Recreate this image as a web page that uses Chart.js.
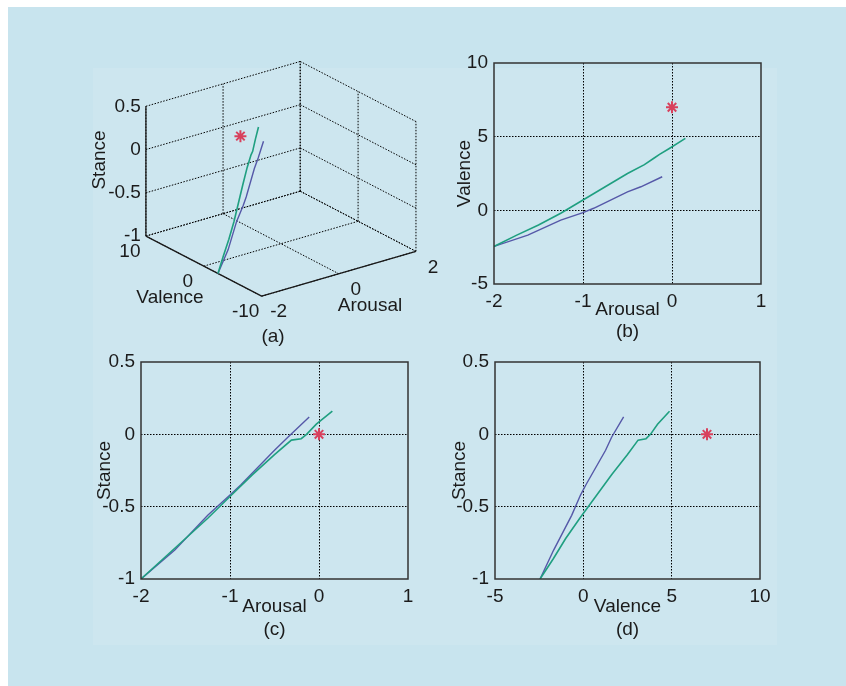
<!DOCTYPE html>
<html>
<head>
<meta charset="utf-8">
<script src="https://cdn.jsdelivr.net/npm/chart.js@4.4.1/dist/chart.umd.min.js"></script>
<style>
  html, body { margin: 0; padding: 0; background: #fff; }
  #page { position: relative; width: 846px; height: 686px; overflow: hidden; }
  #outer { position: absolute; left: 8px; top: 7px; width: 838px; height: 679px; background: #c8e4ee; }
  #inner { position: absolute; left: 93px; top: 68px; width: 684px; height: 577px; background: #cde6ef; }
  canvas { position: absolute; }
</style>
</head>
<body>
<div id="page">
  <div id="outer"></div>
  <div id="inner"></div>
  <canvas id="chartA" width="450" height="350" style="left:0;top:0"></canvas>
  <canvas id="chartB" width="360" height="320" style="left:450px;top:30px"></canvas>
  <canvas id="chartC" width="380" height="320" style="left:60px;top:340px"></canvas>
  <canvas id="chartD" width="360" height="320" style="left:440px;top:340px"></canvas>
</div>
<script>
// trajectories (arousal, valence, stance)
const arousalGreen = [-2, -1.75, -1.5, -1.25, -1, -0.75, -0.5, -0.31, -0.2, -0.14, -0.03, 0.15];
const valenceGreen = [-2.45, -1.7, -1.0, -0.2, 0.7, 1.6, 2.5, 3.1, 3.55, 3.8, 4.2, 4.88];
const stanceGreen  = [-1, -0.86, -0.72, -0.58, -0.43, -0.28, -0.14, -0.04, -0.03, 0.0, 0.07, 0.16];

const arousalBlue = [-2, -1.62, -1.25, -1, -0.88, -0.5, -0.35, -0.11];
const valenceBlue = [-2.45, -1.68, -0.66, -0.16, 0.14, 1.26, 1.6, 2.28];
const stanceBlue  = [-1, -0.8, -0.56, -0.42, -0.35, -0.11, -0.02, 0.12];

// target point (red star)
const targetArousal = [0];
const targetValence = [7];
const targetStance  = [0];

// tick values
const arousalTicks = [-2, -1, 0, 1];
const valenceTicks = [-5, 0, 5, 10];
const stanceTicks  = [-1, -0.5, 0, 0.5];
const arousalTicks3d = [-2, 0, 2];
const valenceTicks3d = [-10, 0, 10];
const stanceTicks3d  = [-1, -0.5, 0, 0.5];

const GREEN = '#1f9f80', BLUE = '#5558a8', RED = '#d8405c', INK = '#1b1b1b';
const FONT = '19px "Liberation Sans", Arial, Helvetica, sans-serif';

Chart.defaults.font.family = '"Liberation Sans", Arial, Helvetica, sans-serif';
Chart.defaults.font.size = 19;
Chart.defaults.color = INK;

function pairs(xs, ys) {
  return xs.map((x, i) => ({ x: x, y: ys[i] }));
}

// ---------- panel (a): 3-D view drawn through a projection ----------
const box3d = { a: [-2, 2], v: [-10, 10], s: [-1, 0.5] };
const origin3d = [143, 239];              // corner arousal=-2, valence=10, stance=-1
const aEdge = [160, -47], vEdge = [120, 63], sEdge = [0, -136];

function project(a, v, s) {
  const fa = (a - box3d.a[0]) / (box3d.a[1] - box3d.a[0]);
  const fv = (box3d.v[1] - v) / (box3d.v[1] - box3d.v[0]);
  const fs = (s - box3d.s[0]) / (box3d.s[1] - box3d.s[0]);
  return {
    x: origin3d[0] + fa * aEdge[0] + fv * vEdge[0] + fs * sEdge[0],
    y: origin3d[1] + fa * aEdge[1] + fv * vEdge[1] + fs * sEdge[1]
  };
}

function seg(p, q, dashed) {
  return {
    data: [p, q], showLine: true, pointRadius: 0, borderWidth: dashed ? 1 : 1.3,
    borderColor: dashed ? '#000' : '#1a1a1a', borderDash: dashed ? [1.5, 1.5] : []
  };
}

const [aMin, aMax] = box3d.a, [vMin, vMax] = box3d.v, [sMin, sMax] = box3d.s;
const gridSets = [];
stanceTicks3d.forEach(s => {
  gridSets.push(seg(project(aMin, vMax, s), project(aMax, vMax, s), true));
  gridSets.push(seg(project(aMax, vMax, s), project(aMax, vMin, s), true));
});
arousalTicks3d.forEach(a => {
  gridSets.push(seg(project(a, vMax, sMin), project(a, vMax, sMax), true));
  gridSets.push(seg(project(a, vMax, sMin), project(a, vMin, sMin), true));
});
valenceTicks3d.forEach(v => {
  gridSets.push(seg(project(aMax, v, sMin), project(aMax, v, sMax), true));
  gridSets.push(seg(project(aMin, v, sMin), project(aMax, v, sMin), true));
});
const axisSets = [
  seg(project(aMin, vMax, sMin), project(aMin, vMax, sMax), false),
  seg(project(aMin, vMax, sMin), project(aMin, vMin, sMin), false),
  seg(project(aMin, vMin, sMin), project(aMax, vMin, sMin), false)
];

const text3d = {
  id: 'text3d',
  afterDraw(chart) {
    const ctx = chart.ctx;
    const px = p => [chart.scales.x.getPixelForValue(p.x), chart.scales.y.getPixelForValue(p.y)];
    ctx.save();
    ctx.fillStyle = INK;
    ctx.font = FONT;
    ctx.textBaseline = 'middle';
    ctx.textAlign = 'right';
    stanceTicks3d.forEach(s => {
      const [x, y] = px(project(aMin, vMax, s));
      ctx.fillText(String(s), x - 5, y);
    });
    ctx.textAlign = 'center';
    valenceTicks3d.forEach(v => {
      const [x, y] = px(project(aMin, v, sMin));
      ctx.fillText(String(v), x - 16, y + 16);
    });
    arousalTicks3d.forEach(a => {
      const [x, y] = px(project(a, vMin, sMin));
      ctx.fillText(String(a), x + 17, y + 16);
    });
    ctx.fillText('Valence', 170, 298);
    ctx.fillText('Arousal', 370, 306);
    ctx.fillText('(a)', 273, 337);
    ctx.translate(100, 160);
    ctx.rotate(-Math.PI / 2);
    ctx.fillText('Stance', 0, 0);
    ctx.restore();
  }
};

new Chart(document.getElementById('chartA'), {
  type: 'scatter',
  data: {
    datasets: [
      { data: [project(targetArousal[0], targetValence[0], targetStance[0])], pointStyle: 'star',
        pointRadius: 6, borderColor: RED, borderWidth: 2 },
      { data: arousalGreen.map((a, i) => project(a, valenceGreen[i], stanceGreen[i])), showLine: true,
        pointRadius: 0, borderColor: GREEN, borderWidth: 1.6 },
      { data: arousalBlue.map((a, i) => project(a, valenceBlue[i], stanceBlue[i])), showLine: true,
        pointRadius: 0, borderColor: BLUE, borderWidth: 1.4 }
    ].concat(axisSets, gridSets)
  },
  options: {
    responsive: false,
    animation: false,
    layout: { padding: 0 },
    plugins: { legend: { display: false }, tooltip: { enabled: false } },
    scales: {
      x: { type: 'linear', min: 0, max: 450, display: false },
      y: { type: 'linear', min: 0, max: 350, reverse: true, display: false }
    }
  },
  plugins: [text3d]
});

// ---------- panels (b), (c), (d) ----------
const frame = {
  id: 'frame',
  afterDatasetsDraw(chart) {
    const { ctx, chartArea: a } = chart;
    ctx.save();
    ctx.strokeStyle = '#333';
    ctx.lineWidth = 1.5;
    ctx.strokeRect(a.left, a.top, a.right - a.left, a.bottom - a.top);
    ctx.restore();
  }
};

const panelText = {
  id: 'panelText',
  afterDraw(chart, args, o) {
    const { ctx, chartArea: a } = chart;
    const cx = (a.left + a.right) / 2, cy = (a.top + a.bottom) / 2;
    ctx.save();
    ctx.fillStyle = INK;
    ctx.font = FONT;
    ctx.textAlign = 'center';
    ctx.textBaseline = 'middle';
    ctx.fillText(o.xTitle, cx, a.bottom + o.xDy);
    ctx.fillText(o.caption, cx, a.bottom + o.capDy);
    ctx.translate(a.left - o.yOff, cy);
    ctx.rotate(-Math.PI / 2);
    ctx.fillText(o.yTitle, 0, 0);
    ctx.restore();
  }
};

function axis(ticks, size, horizontal) {
  return {
    type: 'linear',
    min: ticks[0],
    max: ticks[ticks.length - 1],
    afterBuildTicks: s => { s.ticks = ticks.map(v => ({ value: v })); },
    afterFit: s => { if (horizontal) s.height = size; else s.width = size; },
    grid: {
      drawTicks: false,
      lineWidth: 1,
      color: c => (c.index > 0 && c.index < ticks.length - 1) ? '#000' : 'rgba(0,0,0,0)'
    },
    border: { display: false, dash: [1.5, 1.5] },
    ticks: { padding: 6, maxRotation: 0, color: INK, callback: v => String(v) }
  };
}

function flatPanel(id, green, blue, target, xTicks, yTicks, lay, txt) {
  return new Chart(document.getElementById(id), {
    type: 'scatter',
    data: {
      datasets: [
        { data: target, pointStyle: 'star', pointRadius: 6, borderColor: RED, borderWidth: 2 },
        { data: green, showLine: true, pointRadius: 0, borderColor: GREEN, borderWidth: 1.6 },
        { data: blue, showLine: true, pointRadius: 0, borderColor: BLUE, borderWidth: 1.4 }
      ]
    },
    options: {
      responsive: false,
      animation: false,
      layout: { padding: { top: lay.top, right: lay.right, left: 0, bottom: 0 } },
      plugins: { legend: { display: false }, tooltip: { enabled: false }, panelText: txt },
      scales: {
        x: axis(xTicks, lay.xh, true),
        y: axis(yTicks, lay.yw, false)
      }
    },
    plugins: [frame, panelText]
  });
}

flatPanel('chartB',
  pairs(arousalGreen, valenceGreen), pairs(arousalBlue, valenceBlue), pairs(targetArousal, targetValence),
  arousalTicks, valenceTicks,
  { top: 33, right: 49, xh: 66, yw: 44 },
  { xTitle: 'Arousal', yTitle: 'Valence', caption: '(b)', yOff: 29, xDy: 26, capDy: 48 });

flatPanel('chartC',
  pairs(arousalGreen, stanceGreen), pairs(arousalBlue, stanceBlue), pairs(targetArousal, targetStance),
  arousalTicks, stanceTicks,
  { top: 22, right: 32, xh: 81, yw: 81 },
  { xTitle: 'Arousal', yTitle: 'Stance', caption: '(c)', yOff: 36, xDy: 28, capDy: 51 });

flatPanel('chartD',
  pairs(valenceGreen, stanceGreen), pairs(valenceBlue, stanceBlue), pairs(targetValence, targetStance),
  valenceTicks, stanceTicks,
  { top: 22, right: 40, xh: 81, yw: 55 },
  { xTitle: 'Valence', yTitle: 'Stance', caption: '(d)', yOff: 35, xDy: 28, capDy: 51 });
</script>
</body>
</html>
